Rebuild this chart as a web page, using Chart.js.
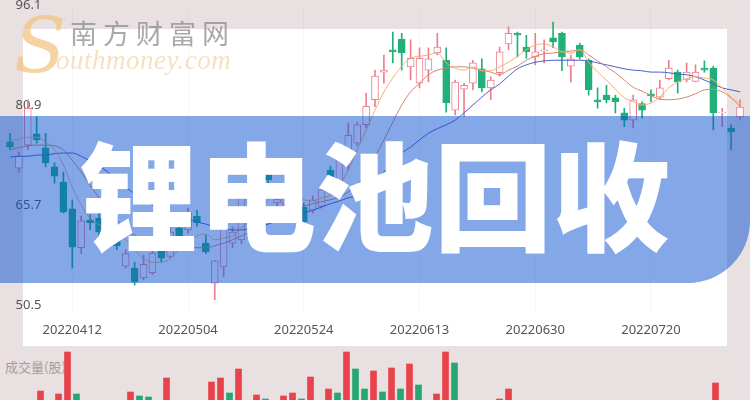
<!DOCTYPE html>
<html><head><meta charset="utf-8">
<script src="https://cdn.jsdelivr.net/npm/chart.js@4.4.1/dist/chart.umd.min.js"></script>
<style>
html,body{margin:0;padding:0;}
body{width:750px;height:400px;overflow:hidden;position:relative;background:#e9e0e1;}
#plotbg{position:absolute;left:23px;top:29px;width:704px;height:317px;background:#fff;}
#price{position:absolute;left:0;top:-10px;}
#vlabel{position:absolute;left:5px;top:357px;font:13px "Noto Sans CJK SC",sans-serif;color:#a59c9d;}
#vol{position:absolute;left:0;top:340px;}
#wmS{position:absolute;left:14px;top:6px;font:italic 76px/80px "DejaVu Serif",serif;color:rgba(242,196,132,0.75);}
#wmEn{position:absolute;left:56px;top:45px;font:italic 27px/30px "Liberation Serif",serif;color:rgba(244,214,172,0.75);letter-spacing:0.5px;}
#wmCn{position:absolute;left:70px;top:18px;font:27px/30px "Noto Sans CJK SC",sans-serif;color:rgba(140,140,140,0.75);letter-spacing:6px;}
#banner{position:absolute;left:0;top:116px;width:750px;height:167px;background:rgba(10,80,210,0.5);border-bottom-right-radius:62px;}
#title{position:absolute;left:0;top:132px;width:750px;text-align:center;font:900 118px/118px "Noto Sans CJK SC",sans-serif;color:#fff;}
</style></head>
<body>
<div id="plotbg"></div>
<canvas id="price" width="750" height="358"></canvas>
<div id="vlabel">成交量(股)</div>
<canvas id="vol" width="750" height="130"></canvas>
<div id="wmS">S</div>
<div id="wmEn">outhmoney.com</div>
<div id="wmCn">南方财富网</div>
<div id="banner"></div>
<div id="title">锂电池回收</div>
<script>
const dates = ['20220330','20220331','20220401','20220406','20220407','20220408','20220411','20220412','20220413','20220414','20220415','20220418','20220419','20220420','20220421','20220422','20220425','20220426','20220427','20220428','20220504','20220505','20220506','20220509','20220510','20220511','20220512','20220513','20220516','20220517','20220518','20220519','20220520','20220524','20220525','20220526','20220527','20220530','20220531','20220601','20220602','20220606','20220607','20220608','20220609','20220610','20220613','20220614','20220615','20220616','20220617','20220620','20220621','20220622','20220623','20220624','20220627','20220628','20220629','20220630','20220701','20220704','20220705','20220706','20220707','20220708','20220711','20220712','20220713','20220714','20220715','20220718','20220720','20220721','20220722','20220725','20220726','20220727','20220728','20220729','20220801','20220802','20220803'];
const xTickLabels = ['20220412','20220504','20220524','20220613','20220630','20220720'];
const yTickValues = [50.5, 65.7, 80.9, 96.1];

const openPrice = [75.3,71.3,74.8,76.5,74.4,71.5,69.2,65.1,59.2,63.4, 63.7,60.4,62.2,56.4,56.1,54.6,55.4,58.9,57.9,62.2, 61.9,64.0,59.9,53.8,56.3,59.9,60.4,67.2,65.7,70.7, 66.0,65.7,66.5,65.4,64.9,65.5,71.0,69.2,73.8,75.1, 77.9,81.7,85.9,89.3,90.9,86.7,84.2,86.2,88.8,87.7, 80.1,83.3,84.2,86.4,83.5,85.8,90.2,91.8,89.7,88.2, 89.1,91.1,91.8,86.8,90.0,87.7,81.7,82.4,82.0,79.7, 78.6,81.1,82.6,82.1,84.9,85.9,84.7,84.5,86.5,86.5, 79.7,77.4,79.1];
const closePrice = [74.5,73.1,80.4,75.6,72.1,70.1,64.6,59.3,63.3,63.0, 61.6,62.5,59.5,58.3,54.0,56.7,58.4,57.6,61.6,60.7, 64.5,63.0,58.6,57.2,62.1,61.6,67.7,65.7,68.7,69.5, 66.6,67.1,67.7,63.1,66.5,68.0,69.8,72.8,76.3,77.9, 80.7,85.3,86.2,89.0,88.8,88.0,88.0,87.9,89.7,81.2, 84.4,83.9,87.3,83.5,84.7,89.0,91.8,91.5,89.0,89.0, 89.3,90.5,88.2,87.9,88.2,83.2,81.4,81.7,81.4,78.6, 81.7,80.1,82.3,83.5,86.5,84.4,85.9,85.9,86.2,79.7, 79.8,76.8,80.6];
const highPrice = [76.6,73.8,81.7,79.1,76.6,72.1,70.7,66.5,64.0,64.2, 64.6,63.4,63.1,58.9,57.0,58.1,58.9,59.6,62.5,63.1, 65.2,64.9,61.1,57.3,63.4,62.4,68.3,68.0,69.5,71.6, 67.7,68.0,68.4,66.0,67.1,68.6,71.6,73.8,78.2,78.3, 82.7,86.2,88.5,92.0,91.8,90.8,89.6,89.6,91.8,89.6, 84.7,84.2,87.7,87.9,85.2,89.7,92.8,92.0,91.5,91.8, 90.8,93.5,92.0,88.5,90.3,87.9,83.5,83.9,82.4,80.4, 82.4,81.4,83.2,84.7,87.7,86.2,87.3,87.0,87.6,86.8, 80.4,77.9,81.7];
const lowPrice = [74.1,70.7,74.1,75.1,71.5,69.0,64.5,56.1,58.3,61.9, 60.7,59.8,58.9,56.1,53.5,54.3,55.1,57.0,57.6,60.1, 61.4,62.5,58.3,51.3,54.8,59.2,59.8,64.9,65.2,68.6, 65.5,65.2,65.9,62.8,64.5,65.2,69.2,68.7,71.0,74.7, 77.4,80.6,84.2,87.3,86.2,84.7,83.5,84.4,88.5,79.8, 79.4,79.1,83.2,82.9,81.7,85.3,89.3,88.2,88.0,87.0, 87.3,89.6,86.1,84.4,87.9,82.4,80.4,81.2,79.7,77.6, 77.4,78.9,81.4,81.7,84.7,82.7,84.4,84.4,85.9,77.1, 77.6,74.1,78.6];

const ma5 = [75.6,75.7,76.0,76.0,75.3,74.1,71.8,68.4,65.7,63.7, 62.7,62.1,61.4,60.4,58.9,57.6,57.0,57.0,57.6,58.9, 59.9,61.0,61.3,60.4,60.7,61.0,62.2,63.4,64.6,66.5, 67.1,67.2,67.1,66.5,66.3,66.8,67.2,68.7,71.0,74.1, 77.1,80.1,82.9,85.0,86.8,88.0,88.3,88.5,88.8,87.3, 86.5,86.2,86.7,86.1,86.1,86.7,87.4,88.3,89.3,90.0, 90.2,89.7,89.0,88.8,89.3,87.4,85.9,84.7,83.3,82.0, 81.4,80.9,81.2,82.1,83.5,84.4,84.9,85.2,85.0,84.7, 83.5,82.1,81.1];
const ma10 = [74.1,74.4,74.7,74.8,74.8,74.7,74.1,72.5,70.7,68.7, 66.8,64.9,63.4,62.2,61.1,60.5,60.4,60.2,60.1,59.8, 59.5,59.2,59.2,59.5,59.9,60.4,61.0,61.6,62.5,63.4, 64.2,64.8,65.2,65.5,65.9,66.2,66.5,66.9,67.7,68.7, 70.7,73.0,75.6,78.3,80.9,82.9,84.2,85.5,86.2,86.5, 86.7,86.7,86.5,86.2,85.9,85.5,86.2,86.8,87.7,88.3, 88.7,88.8,89.0,89.1,89.3,88.5,87.6,86.7,85.8,84.7, 83.6,83.0,82.3,81.8,81.7,81.8,82.1,82.6,83.2,83.3, 82.9,82.0,80.7];
const ma30 = [73.0,73.1,73.1,73.3,73.3,73.5,73.6,73.6,73.1,72.4, 71.6,70.7,69.5,68.4,67.4,66.5,65.7,65.1,64.5,64.0, 63.6,63.1,62.8,62.4,62.1,61.9,61.9,62.1,62.4,62.8, 63.3,63.7,64.2,64.5,64.9,65.4,65.9,66.3,66.8,67.1, 68.0,69.2,70.7,72.2,73.6,74.5,75.6,76.6,77.3,77.9, 78.6,79.7,80.9,82.1,83.2,84.1,85.3,86.4,87.0,87.4, 87.6,87.7,87.7,87.7,87.7,87.6,87.3,87.0,86.7,86.4, 86.2,86.1,85.9,85.9,85.8,85.6,85.5,85.2,84.7,84.1, 83.5,83.2,82.9];

const volume = [520000,480000,600000,450000,790000,500000,760000,1180000,760000,550000, 620000,470000,580000,660000,780000,740000,730000,600000,920000,550000, 500000,630000,580000,880000,920000,770000,1010000,620000,750000,710000, 640000,740000,770000,710000,930000,660000,810000,770000,1180000,1010000, 810000,990000,780000,1020000,810000,1060000,850000,640000,760000,1180000, 1070000,620000,580000,660000,600000,710000,810000,550000,480000,520000, 450000,580000,620000,500000,460000,650000,400000,380000,440000,520000, 480000,360000,420000,450000,500000,470000,390000,410000,440000,870000, 550000,600000,480000];
const volumeUp = [0,1,1,0,1,0,1,1,0,0, 0,1,0,1,1,0,0,0,1,0, 0,0,0,1,1,0,1,0,1,0, 1,1,1,0,1,1,1,0,1,0, 0,1,0,1,0,1,0,1,1,1, 0,1,1,0,1,1,1,0,0,1, 1,0,0,1,0,0,0,0,0,0, 1,0,0,1,1,0,1,1,0,1, 1,0,1];

const UP = '#ee7f8f', DOWN = '#21b07a';
const VOL_UP = '#e8434b', VOL_DOWN = '#27a873';
const rising = dates.map((d, i) => closePrice[i] >= openPrice[i]);

const priceChart = new Chart(document.getElementById('price'), {
  type: 'bar',
  data: {
    labels: dates,
    datasets: [
      { type: 'line', label: 'MA5', data: ma5, borderColor: '#f2b273', borderWidth: 1, pointRadius: 0, cubicInterpolationMode: 'monotone', order: 0 },
      { type: 'line', label: 'MA10', data: ma10, borderColor: '#d4866a', borderWidth: 1, pointRadius: 0, cubicInterpolationMode: 'monotone', order: 0 },
      { type: 'line', label: 'MA30', data: ma30, borderColor: '#4a5ecb', borderWidth: 1, pointRadius: 0, cubicInterpolationMode: 'monotone', order: 0 },
      { label: 'body', data: dates.map((d, i) => [openPrice[i], closePrice[i]]),
        backgroundColor: rising.map(r => r ? '#ffffff' : DOWN),
        borderColor: rising.map(r => r ? UP : DOWN),
        borderWidth: 1, borderSkipped: false, barThickness: 7, grouped: false, order: 1 },
      { label: 'wick', data: dates.map((d, i) => [lowPrice[i], highPrice[i]]),
        backgroundColor: rising.map(r => r ? UP : DOWN),
        borderWidth: 0, barThickness: 1, grouped: false, order: 2 }
    ]
  },
  options: {
    responsive: false, animation: false, devicePixelRatio: 1,
    layout: { padding: { left: 0, right: 3, top: 0, bottom: 0 } },
    plugins: { legend: { display: false }, tooltip: { enabled: false } },
    scales: {
      x: {
        type: 'category', offset: true,
        border: { display: false },
        grid: { offset: false, drawTicks: false,
          color: ctx => (ctx.tick && xTickLabels.includes(dates[ctx.index])) ? 'rgba(0,0,0,0.035)' : 'rgba(0,0,0,0)' },
        ticks: { autoSkip: false, maxRotation: 0, padding: 10, color: '#555',
          font: { family: 'Noto Sans', size: 13 },
          callback: (v, i) => xTickLabels.includes(dates[i]) ? dates[i] : '' }
      },
      y: {
        position: 'left', min: 48.5, max: 97,
        border: { display: false },
        grid: { display: false, drawTicks: false },
        afterFit: s => { s.width = 0; },
        afterBuildTicks: s => { s.ticks = yTickValues.map(v => ({ value: v })); },
        ticks: { mirror: true, padding: 10, color: '#555',
          font: { family: 'Noto Sans', size: 13 },
          callback: v => Number(v).toFixed(1) }
      }
    }
  }
});
// set the axis range so the tick values sit where the reference draws them
(function () {
  const ca = priceChart.chartArea;
  const topPx = 15, botPx = 315;
  const k = (botPx - topPx) / (yTickValues[3] - yTickValues[0]);
  priceChart.options.scales.y.min = yTickValues[0] - (ca.bottom - botPx) / k;
  priceChart.options.scales.y.max = yTickValues[3] + (topPx - ca.top) / k;
  priceChart.update('none');
})();

new Chart(document.getElementById('vol'), {
  type: 'bar',
  data: { labels: dates, datasets: [{ data: volume,
    backgroundColor: volumeUp.map(u => u ? VOL_UP : VOL_DOWN), barThickness: 6 }] },
  options: {
    responsive: false, animation: false, devicePixelRatio: 1,
    layout: { padding: { left: 0, right: 3, top: 0, bottom: 0 } },
    plugins: { legend: { display: false }, tooltip: { enabled: false } },
    scales: { x: { display: false, offset: true }, y: { display: false, min: 0, max: 1300000 } }
  }
});
</script>
</body></html>
